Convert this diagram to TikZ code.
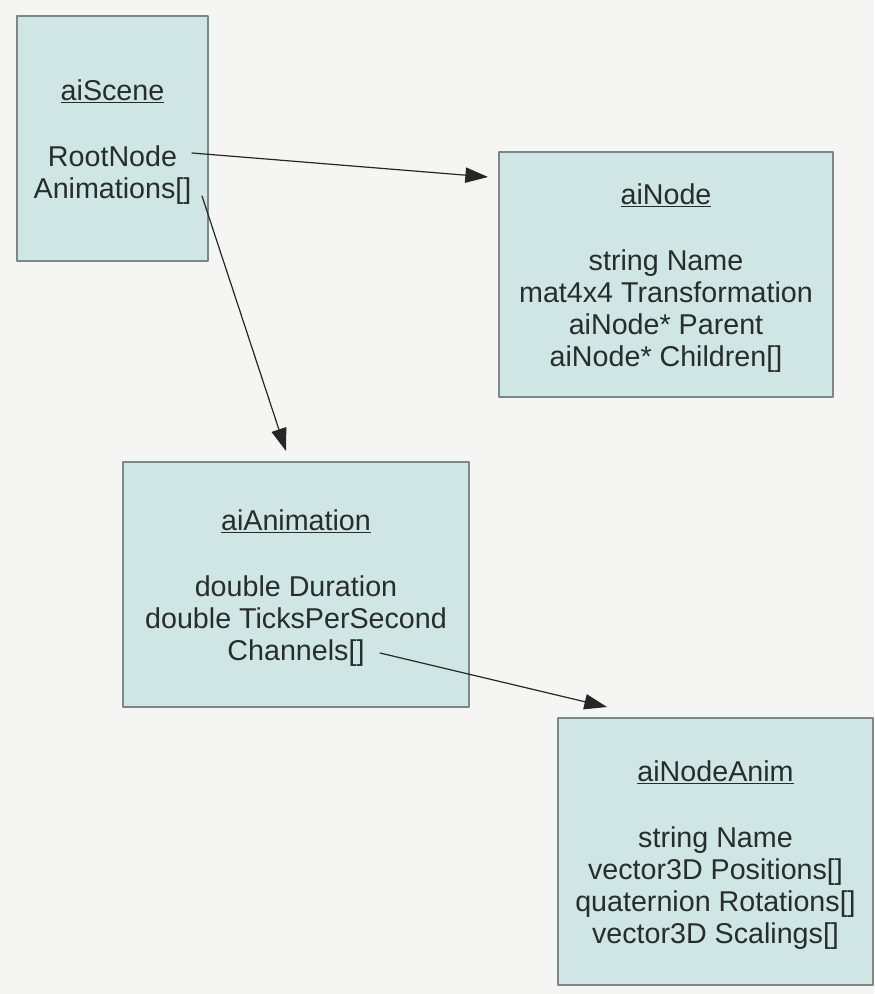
\documentclass[tikz,border=0pt]{standalone}
\usepackage{fontspec}
\setmainfont{Liberation Sans}
\usetikzlibrary{arrows.meta}

\definecolor{boxfill}{RGB}{208,230,228}
\definecolor{boxline}{RGB}{125,135,135}
\definecolor{txtgray}{RGB}{38,45,45}
\definecolor{paper}{RGB}{245,245,244}

\newcommand{\ctitle}[1]{\rule{0pt}{21pt}\underline{#1}\\[26pt]}

\tikzset{
  classbox/.style={draw=boxline,fill=boxfill,line width=0.8pt,inner sep=0pt,
    align=center,text=txtgray,font=\fontsize{21.5}{24}\selectfont,
    minimum height=183.75pt},
  ref/.style={-{Triangle[length=17pt,width=11.5pt]},line width=0.9pt,draw=black!85}
}

\begin{document}
\begin{tikzpicture}[x=0.75pt,y=-0.75pt,line cap=round,line join=round]
\fill[paper] (0,0) rectangle (874,994);
\useasboundingbox (0,0) rectangle (874,994);

\node[classbox,minimum width=143.25pt] (scene) at (112.5,138.5)
  {\ctitle{aiScene}RootNode\\Animations[]};
\node[classbox,minimum width=250.5pt] (node) at (666,274.5)
  {\ctitle{aiNode}string Name\\mat4x4 Transformation\\aiNode* Parent\\aiNode* Children[]};
\node[classbox,minimum width=259.5pt] (anim) at (296,584.5)
  {\ctitle{aiAnimation}double Duration\\double TicksPerSecond\\Channels[]};
\node[classbox,minimum width=236.25pt,minimum height=200.25pt] (nodeanim) at (715.5,851.5)
  {\ctitle{aiNodeAnim}string Name\\vector3D Positions[]\\quaternion Rotations[]\\vector3D Scalings[]};

% arrow ends
\coordinate (rootnode) at (192,153);
\coordinate (animations) at (202,196);
\coordinate (channels) at (380,653);
\coordinate (nodein) at (488,177);
\coordinate (animin) at (286,451);
\coordinate (nodeanimin) at (607,707);

\draw[ref] (rootnode) -- (nodein);
\draw[ref] (animations) -- (animin);
\draw[ref] (channels) -- (nodeanimin);
\end{tikzpicture}
\end{document}
